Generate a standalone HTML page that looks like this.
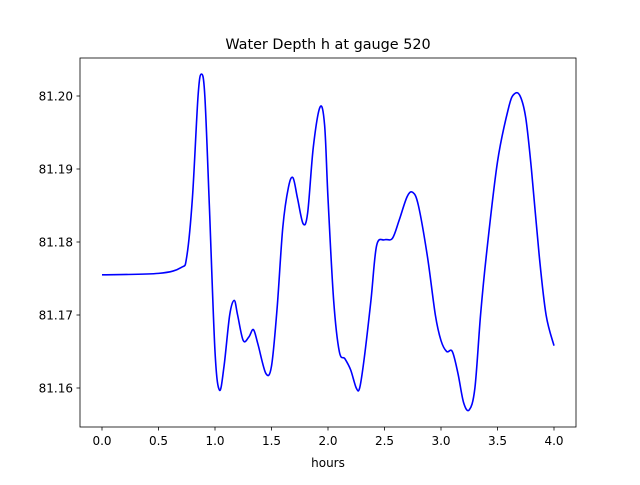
<!DOCTYPE html>
<html><head><meta charset="utf-8"><style>
body{margin:0;background:#fff;font-family:"Liberation Sans","DejaVu Sans",sans-serif}
svg text{font-family:"DejaVu Sans","Liberation Sans",sans-serif}
</style></head><body>
<svg id="chart" width="640" height="480" xmlns="http://www.w3.org/2000/svg">
<rect x="0" y="0" width="640" height="480" fill="#fff"/>
<text x="328" y="49" text-anchor="middle" font-size="14.4">Water Depth h at gauge 520</text>
<g id="ticks"></g>
<path id="series" fill="none" stroke="#0000ff" stroke-width="1.6"/>
<rect x="80" y="58" width="496" height="369" fill="none" stroke="#000" stroke-width="0.8"/>
<text x="328" y="467" text-anchor="middle" font-size="12">hours</text>
</svg>
<script>
const hours=[0,0.5,0.7,0.75,0.8,0.85,0.88,0.91,0.95,1.0,1.04,1.08,1.13,1.17,1.2,1.25,1.3,1.34,1.38,1.45,1.5,1.55,1.6,1.65,1.69,1.73,1.78,1.82,1.87,1.93,1.97,2.0,2.05,2.1,2.15,2.2,2.25,2.28,2.32,2.38,2.43,2.5,2.57,2.63,2.7,2.75,2.8,2.88,2.95,3.0,3.05,3.1,3.15,3.2,3.25,3.3,3.35,3.4,3.5,3.6,3.65,3.7,3.75,3.8,3.87,3.93,4.0];
const depth=[81.1755,81.1757,81.1765,81.178,81.186,81.200,81.203,81.200,81.185,81.165,81.1597,81.163,81.170,81.172,81.170,81.1665,81.167,81.168,81.166,81.162,81.163,81.171,81.182,81.1875,81.1888,81.186,81.1825,81.184,81.193,81.1985,81.196,81.186,81.172,81.165,81.164,81.1625,81.160,81.160,81.164,81.172,81.1795,81.1803,81.1805,81.183,81.1862,81.1868,81.185,81.178,81.170,81.1665,81.165,81.165,81.162,81.158,81.157,81.160,81.170,81.178,81.191,81.1985,81.2003,81.200,81.197,81.190,81.178,81.170,81.1658];
const xTicks=[0,0.5,1.0,1.5,2.0,2.5,3.0,3.5,4.0];
const xTickLabels=["0.0","0.5","1.0","1.5","2.0","2.5","3.0","3.5","4.0"];
const yTicks=[81.16,81.17,81.18,81.19,81.20];
const yTickLabels=["81.16","81.17","81.18","81.19","81.20"];
const X=v=>102+v*113;
const Y=v=>388-(v-81.16)*7300;
const NS="http://www.w3.org/2000/svg";
const g=document.getElementById('ticks');
function mk(t,a){const e=document.createElementNS(NS,t);for(const k in a)e.setAttribute(k,a[k]);return e;}
xTicks.forEach((v,i)=>{
 const l=mk('line',{x1:X(v),x2:X(v),y1:427,y2:430.5,stroke:'#000','stroke-width':0.8});
 
 
 g.appendChild(l);
 const t=mk('text',{x:X(v),y:445,'text-anchor':'middle','font-size':12});
 
 
 t.textContent=xTickLabels[i];g.appendChild(t);
});
yTicks.forEach((v,i)=>{
 const l=mk('line',{x1:76.5,x2:80,y1:Y(v),y2:Y(v),stroke:'#000','stroke-width':0.8});
 
 
 g.appendChild(l);
 const t=mk('text',{x:73,y:Y(v)+4.5,'text-anchor':'end','font-size':12});
 
 
 t.textContent=yTickLabels[i];g.appendChild(t);
});
const pts=hours.map((h,i)=>[X(h),Y(depth[i])]);
let d='M'+pts[0][0]+','+pts[0][1];
for(let i=0;i<pts.length-1;i++){
 const p0=pts[Math.max(i-1,0)],p1=pts[i],p2=pts[i+1],p3=pts[Math.min(i+2,pts.length-1)];
 const c1=[p1[0]+(p2[0]-p0[0])/6,p1[1]+(p2[1]-p0[1])/6];
 const c2=[p2[0]-(p3[0]-p1[0])/6,p2[1]-(p3[1]-p1[1])/6];
 d+=' C'+c1[0]+','+c1[1]+' '+c2[0]+','+c2[1]+' '+p2[0]+','+p2[1];
}
document.getElementById('series').setAttribute('d',d);
</script>
</body></html>
